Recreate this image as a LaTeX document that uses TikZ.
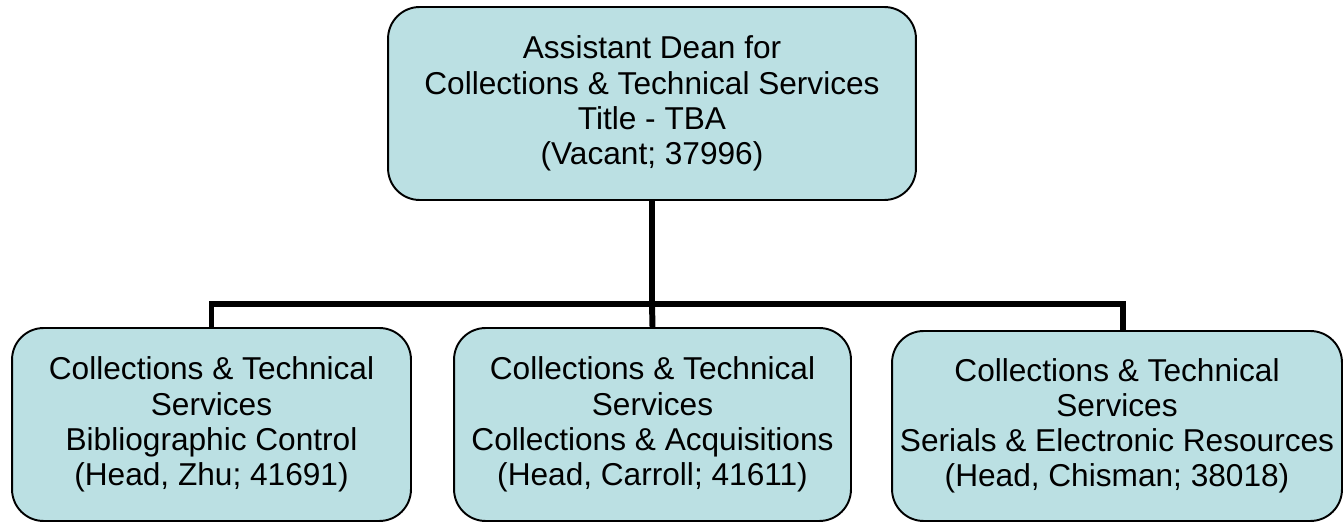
\documentclass[tikz,border=0pt]{standalone}
\usepackage{fontspec}
\setmainfont{Liberation Sans}
\usetikzlibrary{positioning}
\definecolor{boxfill}{HTML}{BBE0E3}

\tikzset{
  unit/.style={draw=black, line width=1.1pt, fill=boxfill, rounded corners=18pt,
    align=center, inner sep=0pt, minimum height=3.86cm,
    font=\fontsize{18}{20}\selectfont},
  link/.style={line width=3.4pt}
}

\begin{document}
\begin{tikzpicture}[x=0.02cm, y=-0.02cm]
    \useasboundingbox (0,0) rectangle (1344,523);

    \node[unit, minimum width=10.56cm] (dean) at (652,103.5)
      {Assistant Dean for\\Collections \& Technical Services\\Title - TBA\\(Vacant; 37996)};

    \node[unit, minimum width=7.98cm] (biblio) at (211.5,424.5)
      {Collections \& Technical\\Services\\Bibliographic Control\\(Head, Zhu; 41691)};
    \node[unit, minimum width=7.94cm] (acq) at (652.5,424.5)
      {Collections \& Technical\\Services\\Collections \& Acquisitions\\(Head, Carroll; 41611)};
    \node[unit, minimum width=9.0cm, minimum height=3.8cm] (serials) at (1117,426)
      {Collections \& Technical\\Services\\Serials \& Electronic Resources\\(Head, Chisman; 38018)};

    % connectors
    \coordinate (bus) at (652,304);
    \draw[link] (dean.south) -- (bus);
    \draw[link] (bus) -| (biblio.north);
    \draw[link] (bus) -- (acq.north);
    \draw[link] (bus) -| ([xshift=0.12cm]serials.north);
  \end{tikzpicture}
\end{document}
